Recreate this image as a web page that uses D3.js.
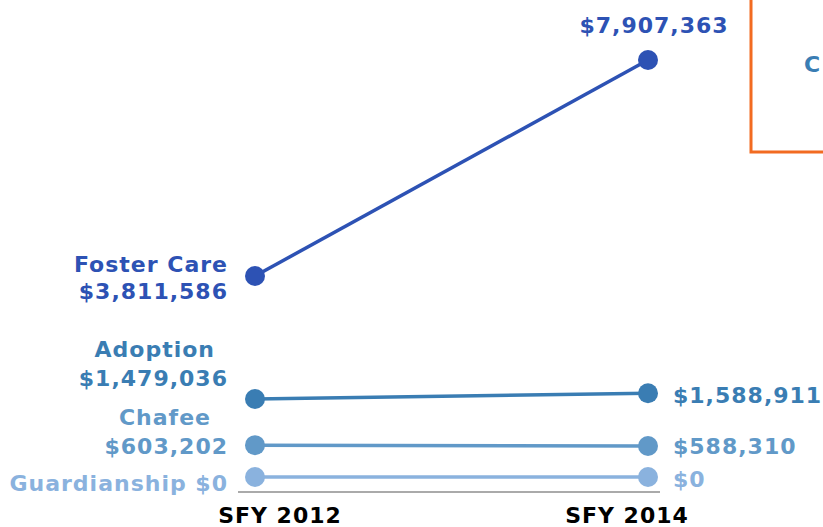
<!DOCTYPE html>
<html>
<head>
<meta charset="utf-8">
<script src="https://cdn.jsdelivr.net/npm/d3@7"></script>
<style>
  body { margin: 0; background: #fff; }
  svg text { font-family: "DejaVu Sans", Verdana, sans-serif; font-weight: bold; }
</style>
</head>
<body>
<div id="graphicContainer"></div>
<script>

const years = ["SFY 2012", "SFY 2014"]

const programs = ["Foster Care", "Adoption", "Chafee", "Guardianship"]

const values2012 = [3811586, 1479036, 603202, 0]

const values2014 = [7907363, 1588911, 588310, 0]

const colorList = ["#2d52b4", "#3a7db3", "#6199c8", "#8ab2de"]

const width = 823
const height = 527

const svg = d3.select("#graphicContainer").append("svg")
  .attr("width", width)
  .attr("height", height)

const x = d3.scalePoint()
  .domain(years)
  .range([255, 648])

const y = d3.scaleLinear()
  .domain([0, d3.max(values2014)])
  .range([477, 60])

const fmt = d3.format("$,")

const data = programs.map((p, i) => ({
  name: p,
  color: colorList[i],
  values: [values2012[i], values2014[i]]
}))

// baseline
svg.append("line")
  .attr("x1", 238)
  .attr("x2", 660)
  .attr("y1", 492)
  .attr("y2", 492)
  .attr("stroke", "#aaaaaa")
  .attr("stroke-width", 2)

// year labels
svg.selectAll(".yearLabel")
  .data(years)
  .enter()
  .append("text")
  .attr("class", "yearLabel")
  .attr("x", (d, i) => x(d) + (i == 0 ? 25 : -21))
  .attr("y", 523)
  .attr("text-anchor", "middle")
  .attr("font-size", 22)
  .attr("letter-spacing", 1)
  .attr("fill", "#000")
  .text(d => d)

const line = d3.line()
  .x((d, i) => x(years[i]))
  .y(d => y(d))

const series = svg.selectAll(".series")
  .data(data)
  .enter()
  .append("g")
  .attr("class", "series")

series.append("path")
  .attr("d", d => line(d.values))
  .attr("fill", "none")
  .attr("stroke", d => d.color)
  .attr("stroke-width", 3.5)

series.selectAll("circle")
  .data(d => d.values.map(v => ({ v: v, color: d.color })))
  .enter()
  .append("circle")
  .attr("cx", (d, i) => x(years[i]))
  .attr("cy", d => y(d.v))
  .attr("r", 10)
  .attr("fill", d => d.color)

// left labels
const leftLabels = [
  { lines: ["Foster Care", fmt(values2012[0])], dy: [-4, 23], xs: [228, 228] },
  { lines: ["Adoption", fmt(values2012[1])], dy: [-42, -13], xs: [215, 228] },
  { lines: ["Chafee", fmt(values2012[2])], dy: [-20, 9], xs: [211, 228] },
  { lines: ["Guardianship " + fmt(values2012[3])], dy: [14], xs: [228] }
]

leftLabels.forEach((l, i) => {
  const t = svg.append("text")
    .attr("text-anchor", "end")
    .attr("fill", colorList[i])
    .attr("font-size", 22)
    .attr("letter-spacing", 1)
  l.lines.forEach((s, j) => {
    t.append("tspan")
      .attr("x", l.xs[j])
      .attr("y", y(values2012[i]) + l.dy[j])
      .text(s)
  })
})

// right labels
svg.append("text")
  .attr("x", x(years[1]) + 6)
  .attr("y", y(values2014[0]) - 27)
  .attr("text-anchor", "middle")
  .attr("fill", colorList[0])
  .attr("font-size", 22)
  .attr("letter-spacing", 1)
  .text(fmt(values2014[0]))

const rightDy = [10, 8, 10]

values2014.slice(1).forEach((v, i) => {
  svg.append("text")
    .attr("x", 673)
    .attr("y", y(v) + rightDy[i])
    .attr("fill", colorList[i + 1])
    .attr("font-size", 22)
    .attr("letter-spacing", 1)
    .text(fmt(v))
})

// callout box, cut off at the right edge
svg.append("path")
  .attr("d", "M751,0 V152 H823")
  .attr("fill", "none")
  .attr("stroke", "#f26b21")
  .attr("stroke-width", 3)

svg.append("text")
  .attr("x", 804)
  .attr("y", 72)
  .attr("fill", "#3a7db3")
  .attr("font-size", 22)
  .text("C")

</script>
</body>
</html>
